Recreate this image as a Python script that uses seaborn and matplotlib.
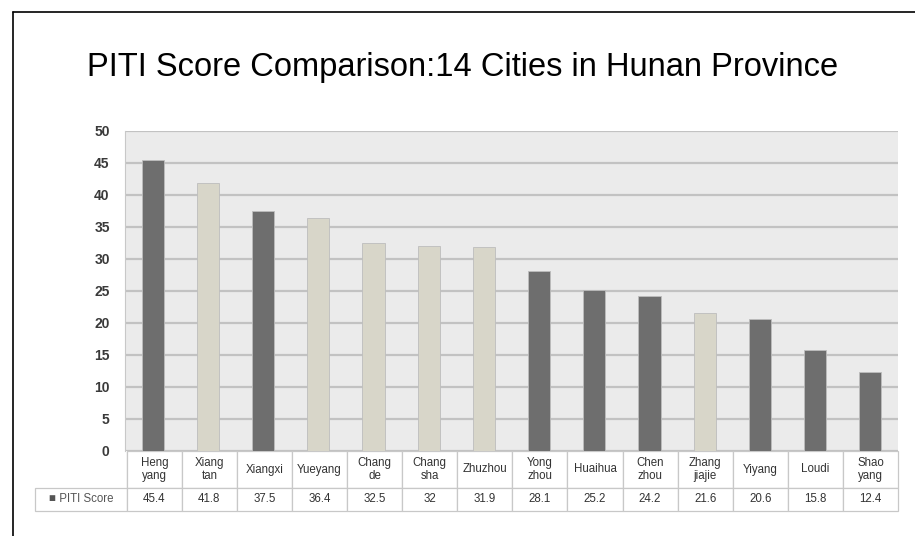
#Import Libraries
import pandas as pd
import matplotlib.pyplot as plt
import seaborn as sns
from matplotlib.lines import Line2D

#Chart data
cities = ['Heng\nyang', 'Xiang\ntan', 'Xiangxi', 'Yueyang', 'Chang\nde', 'Chang\nsha', 'Zhuzhou',
          'Yong\nzhou', 'Huaihua', 'Chen\nzhou', 'Zhang\njiajie', 'Yiyang', 'Loudi', 'Shao\nyang']
scores = [45.4, 41.8, 37.5, 36.4, 32.5, 32, 31.9, 28.1, 25.2, 24.2, 21.6, 20.6, 15.8, 12.4]
score_text = ['45.4', '41.8', '37.5', '36.4', '32.5', '32', '31.9', '28.1', '25.2', '24.2', '21.6', '20.6', '15.8', '12.4']
groups = ['dark', 'light', 'dark', 'light', 'light', 'light', 'light',
          'dark', 'dark', 'dark', 'light', 'dark', 'dark', 'dark']
yticks = [0, 5, 10, 15, 20, 25, 30, 35, 40, 45, 50]

df = pd.DataFrame({'city': cities, 'score': scores, 'group': groups})

sns.set_style('white')
plt.rcParams['font.family'] = ['Liberation Sans', 'DejaVu Sans']

fig = plt.figure(figsize=(9.15, 5.36), dpi=100)
ax = fig.add_axes([125/915, 1 - 451/536, 773/915, 320/536])
ax.set_facecolor('#ebebeb')

sns.barplot(data=df, x='city', y='score', hue='group', dodge=False, width=0.4,
            palette={'dark': '#6e6e6e', 'light': '#dbd8c6'}, edgecolor='#bdbdbd',
            linewidth=0.6, legend=False, ax=ax)

#Axis styling
ax.set_ylim(0, 50)
ax.set_xlim(-0.5, len(cities) - 0.5)
ax.set_yticks(yticks)
ax.set_yticklabels([str(t) for t in yticks], fontsize=10, fontweight='bold', color='#3a3a3a')
ax.tick_params(axis='y', length=0, pad=11)
ax.set_xticks([])
ax.set_xlabel('')
ax.set_ylabel('')
ax.grid(axis='y', color='#c2c2c2', linewidth=1.6)
ax.set_axisbelow(True)
for side in ['top', 'right', 'bottom']:
    ax.spines[side].set_visible(False)
ax.spines['left'].set_color('#c8c8c8')

#Data table under the bars
cell_text = [[''] + cities, ['\u25a0 PITI Score'] + score_text]
x0 = 35
tbl = ax.table(cellText=cell_text, cellLoc='center',
               bbox=[(x0 - 125) / 773, -60 / 320, (898 - x0) / 773, 60 / 320])
tbl.auto_set_font_size(False)
for (r, c), cell in tbl.get_celld().items():
    cell.set_width(92 if c == 0 else 55.2)
    cell.set_height(37 if r == 0 else 23)
    cell.set_edgecolor('#c8c8c8')
    cell.set_linewidth(0.9)
    cell.get_text().set_fontsize(8.3)
    cell.get_text().set_color('#333333')
    cell.get_text().set_linespacing(1.15)
    if r == 0 and c == 0:
        cell.visible_edges = 'R'
tbl[1, 0].get_text().set_color('#555555')

#Title and outer frame
fig.text(463/915, 1 - 76/536, 'PITI Score Comparison:14 Cities in Hunan Province',
         ha='center', va='baseline', fontsize=23.5, color='black')
fig.add_artist(Line2D([13/915, 13/915], [0, 1 - 12/536], color='black', linewidth=1.2))
fig.add_artist(Line2D([13/915, 1], [1 - 12/536, 1 - 12/536], color='black', linewidth=1.2))

plt.savefig('out.png', dpi=100)
